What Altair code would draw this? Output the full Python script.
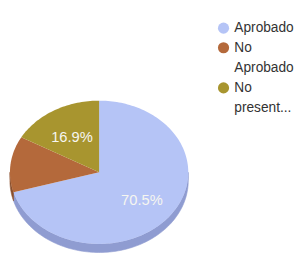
import altair as alt
import numpy as np
import pandas as pd

# ---- data ----
categories = ["Aprobado", "No Aprobado", "No presentado"]
percentages = [70.5, 12.6, 16.9]

# ---- styles ----
face_colors = ["#b5c4f6", "#b4693b", "#a8952f"]
side_colors = ["#8f9cd1", "#8a4f2c", "#7f7124"]
DEPTH = 0.12      # thickness of the 3D pie, in radius units (vertical)
STEP = 0.004      # angular resolution (fraction of a turn)

total = float(sum(percentages))
starts = np.cumsum([0.0] + percentages[:-1]) / total
ends = np.cumsum(percentages) / total

face_rows, side_rows, label_rows = [], [], []
for cat, v, s, e in zip(categories, percentages, starts, ends):
    n = max(2, int(np.ceil((e - s) / STEP)) + 1)
    face_rows.append({"cat": cat, "f": 0.0, "r": 0.0, "drop": 0, "ord": 0})
    for k, f in enumerate(np.linspace(s, e, n)):
        face_rows.append({"cat": cat, "f": f, "r": 1.0, "drop": 0, "ord": k + 1})
    a, b = max(s, 0.25), min(e, 0.75)
    if b > a:
        n2 = max(2, int(np.ceil((b - a) / STEP)) + 1)
        fs = np.linspace(a, b, n2)
        for k, f in enumerate(fs):
            side_rows.append({"cat": cat, "f": f, "r": 1.0, "drop": 0, "ord": k})
        for k, f in enumerate(fs[::-1]):
            side_rows.append({"cat": cat, "f": f, "r": 1.0, "drop": 1, "ord": n2 + k})
    label_rows.append({"cat": cat, "v": v, "f": (s + e) / 2, "r": 0.6, "drop": 0})

faces = pd.DataFrame(face_rows)
sides = pd.DataFrame(side_rows)
labels = pd.DataFrame(label_rows)

xcalc = "datum.r * sin(2 * PI * datum.f)"
ycalc = f"datum.r * cos(2 * PI * datum.f) - datum.drop * {DEPTH}"

xs = alt.Scale(domain=[-1, 1], nice=False, zero=False)
ys = alt.Scale(domain=[-1 - DEPTH, 1], nice=False, zero=False)
X = alt.X("x:Q", scale=xs, axis=None)
Y = alt.Y("y:Q", scale=ys, axis=None)

side_domain = ["side:" + c for c in categories]
side_scale = alt.Scale(domain=side_domain, range=side_colors)
side_layer = alt.Chart(sides).transform_calculate(
    x=xcalc, y=ycalc, side="'side:' + datum.cat"
).mark_line(
    filled=True, interpolate="linear-closed", strokeWidth=0.6
).encode(
    x=X, y=Y,
    fill=alt.Fill("side:N", scale=side_scale, legend=None),
    stroke=alt.Stroke("side:N", scale=side_scale, legend=None),
    order=alt.Order("ord:Q"),
)

legend = alt.Legend(
    title=None, orient="none", legendX=211, legendY=-81,
    symbolType="circle", symbolSize=130, symbolStrokeWidth=0,
    labelFont="Liberation Sans", labelFontSize=14, labelColor="#333333",
    labelOffset=4, labelLimit=200, rowPadding=6, padding=0,
    labelExpr="datum.label == 'No Aprobado' ? ['No', 'Aprobado'] : "
              "(datum.label == 'No presentado' ? ['No', 'present...'] : datum.label)",
)

face_layer = alt.Chart(faces).transform_calculate(x=xcalc, y=ycalc).mark_line(
    filled=True, interpolate="linear-closed", strokeWidth=0.6
).encode(
    x=X, y=Y,
    color=alt.Color("cat:N", scale=alt.Scale(domain=categories, range=face_colors), legend=legend),
    order=alt.Order("ord:Q"),
)

text_layer = alt.Chart(labels).transform_filter("datum.v >= 15").transform_calculate(
    x=xcalc, y=ycalc, txt="format(datum.v, '.1f') + '%'"
).mark_text(
    font="Liberation Sans", fontSize=15, color="#f6f6f0", dy=2
).encode(x=X, y=Y, text="txt:N")

chart = alt.layer(side_layer, face_layer, text_layer).properties(
    width=182, height=155,
    autosize=alt.AutoSizeParams(type="none"),
    padding={"left": 2, "top": 92, "right": 111, "bottom": 0},
).configure(view={"stroke": None}, style={"guide-label": {"lineHeight": 21}})

chart.save("out.html", embed_options={"renderer": "svg", "actions": False})
